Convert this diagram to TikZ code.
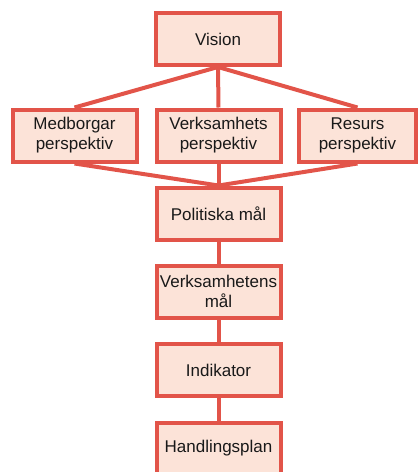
\documentclass[tikz,border=0pt]{standalone}
\usepackage{fontspec}
\setmainfont{Liberation Sans}
\definecolor{boxred}{HTML}{E25449}
\definecolor{boxfill}{HTML}{FCE3D8}
\begin{document}
\begin{tikzpicture}[x=1pt,y=1pt,
  stepbox/.style={draw=boxred, fill=boxfill, line width=4pt, minimum width=124pt, minimum height=52pt, inner sep=0pt, align=center, font=\fontsize{17}{20}\selectfont, text=black!90},
  link/.style={draw=boxred, line width=4pt}]
\useasboundingbox (0,0) rectangle (418,-472);
\clip (0,0) rectangle (418,-472);
\node[stepbox] (vision) at (218,-39) {Vision};
\node[stepbox] (med) at (74.5,-135.5) {Medborgar\\perspektiv};
\node[stepbox] (verk) at (218.5,-135.5) {Verksamhets\\perspektiv};
\node[stepbox, minimum width=117pt] (res) at (357.5,-135.5) {Resurs\\perspektiv};
\node[stepbox] (pol) at (218.5,-213.5) {Politiska mål};
\node[stepbox] (vmal) at (218.5,-291.5) {Verksamhetens\\mål};
\node[stepbox] (ind) at (218.5,-370) {Indikator};
\node[stepbox] (hand) at (218.5,-448.5) {Handlingsplan};
\begin{scope}[on background layer/.try]
\end{scope}
\draw[link] (vision.south) -- (med.north);
\draw[link] (vision.south) -- (verk.north);
\draw[link] (vision.south) -- (res.north);
\draw[link] (med.south) -- (pol.north);
\draw[link] (verk.south) -- (pol.north);
\draw[link] (res.south) -- (pol.north);
\draw[link] (pol.south) -- (vmal.north);
\draw[link] (vmal.south) -- (ind.north);
\draw[link] (ind.south) -- (hand.north);
\end{tikzpicture}
\end{document}
